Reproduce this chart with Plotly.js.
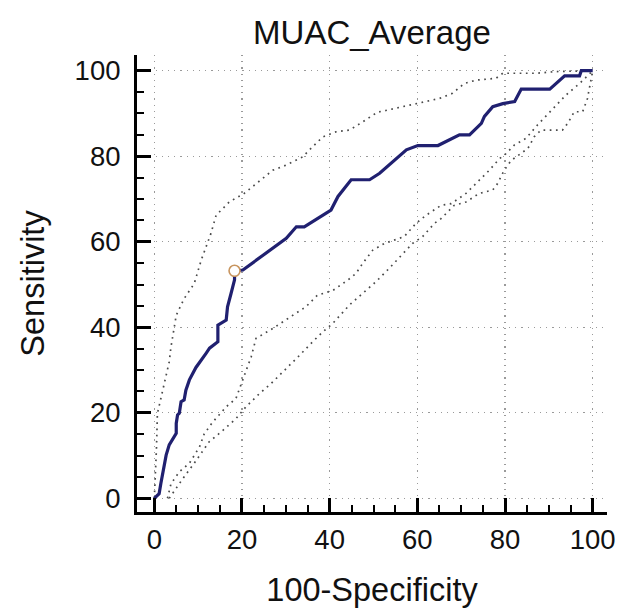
<!DOCTYPE html>
<html>
<head>
<meta charset="utf-8">
<script src="https://cdn.plot.ly/plotly-3.0.1.min.js"></script>
<style>
html,body{margin:0;padding:0;background:#fff;}
#chart{width:623px;height:612px;}
</style>
</head>
<body>
<div id="chart"></div>
<script>
// ROC curve (100-Specificity, Sensitivity)
const rocX = [0,1.1,1.5,1.9,2.3,2.7,3.4,4.2,5.0,5.0,5.3,5.7,6.1,6.8,7.2,8.0,9.5,11.8,12.6,14.5,14.5,16.4,16.7,17.5,18.3,18.3,20.2,30.1,32.4,34.2,40.3,41.9,44.9,49.1,51.4,57.5,60.1,64.7,69.6,71.9,74.6,75.3,77.2,79.5,82.2,83.7,90.2,93.6,97.0,97.4,100];
const rocY = [0,1.1,3.5,5.8,8.2,10.1,12.5,14.0,15.2,17.5,19.5,19.9,22.6,23.0,25.3,27.7,30.6,33.9,35.1,36.6,40.5,41.7,44.8,47.9,51.1,53.2,53.4,60.8,63.5,63.5,67.4,70.6,74.5,74.5,76.0,81.5,82.5,82.5,85.0,85.0,87.7,89.3,91.6,92.3,92.8,95.7,95.7,98.8,98.8,100,100];

// Upper dotted band
const upperX = [0,0.3,0.5,0.7,1.7,2.3,2.7,3.4,3.8,4.6,5.0,6.8,8.4,9.1,10.7,12.9,14.1,17.1,20.5,23.2,27.0,30.0,33.8,35.7,38.4,41.4,44.5,47.5,50.9,52.8,59.7,65.0,68.0,70.7,73.4,77.9,79.5,87.1,91.6,100];
const upperY = [0,6,12,19.8,24.5,27.0,29.2,31.9,35.4,40.1,42.8,46.7,49.0,50.2,55.7,61.9,66.2,69.3,71.3,73.6,76.7,77.9,79.8,81.8,84.5,85.7,86.1,88.0,90.3,90.7,92.3,93.5,94.7,97.0,97.8,98.2,99.4,99.4,99.8,100];

// Middle dotted band
const midX = [3.0,3.8,5.7,8.0,10.3,11.4,13.3,16.4,18.6,20.5,22.1,23.2,27.0,30.4,34.6,37.2,40.7,44.1,46.0,47.5,49.8,52.5,57.0,59.7,62.0,65.4,67.7,71.1,73.4,76.4,78.7,80.2,82.1,84.8,87.4,90.9,93.9,97.0,98.8,100];
const midY = [0,3.4,6.2,8.2,12.0,15.1,17.8,21.4,23.3,28.4,33.1,37.4,39.7,42.0,44.8,47.5,48.6,51.0,52.6,54.9,58.0,59.6,61.2,64.3,66.2,68.5,68.9,71.3,73.6,76.7,79.4,80.6,82.6,84.2,87.3,91.2,94.3,97.0,98.9,100];

// Lower dotted band
const lowX = [3.4,4.6,6.5,9.1,12.5,15.2,18.6,20.9,24.0,26.6,29.3,33.1,36.1,38.4,40.7,44.5,47.5,50.6,53.6,56.3,58.9,61.2,63.9,65.4,68.4,71.1,74.1,77.2,78.3,79.8,81.4,85.2,86.7,88.2,93.1,94.3,95.8,97.7,98.8,100];
const lowY = [0,1.9,4.6,8.2,13.2,15.5,18.6,21.4,24.5,26.8,29.5,33.4,36.6,38.9,40.9,45.2,47.9,50.7,53.8,56.8,59.6,61.2,64.3,65.4,68.5,69.3,71.3,72.1,73.6,76.7,79.0,81.8,84.6,86.1,86.1,87.7,90.4,90.4,93.5,100];

// Optimal criterion point
const cutX = [18.3];
const cutY = [53.2];

const tickVals = [0,20,40,60,80,100];
const tickText = ['0','20','40','60','80','100'];

const sans = "'Liberation Sans', Arial, sans-serif";

const bandStyle = {color:'#4a4a4a', width:1.7, dash:'1.7px,4.5px'};

const traces = [
  {x: upperX, y: upperY, mode:'lines', line: bandStyle, hoverinfo:'skip'},
  {x: midX, y: midY, mode:'lines', line: bandStyle, hoverinfo:'skip'},
  {x: lowX, y: lowY, mode:'lines', line: bandStyle, hoverinfo:'skip'},
  {x: rocX, y: rocY, mode:'lines', line:{color:'#202070', width:3.2}},
  {x: cutX, y: cutY, mode:'markers', marker:{symbol:'circle', size:11, color:'#ffffff', line:{color:'#c8955f', width:1.6}}}
];

const axisCommon = {
  showline:true, linecolor:'#000', linewidth:3,
  ticks:'inside', ticklen:14, tickwidth:3, tickcolor:'#000',
  tickmode:'array', tickvals: tickVals, ticktext: tickText,
  showgrid:true, gridcolor:'#9a9a9a', gridwidth:1.2, griddash:'1.2px,5px',
  zeroline:false, mirror:false,
  minor:{dtick:5, tick0:0, ticks:'inside', ticklen:7, tickwidth:2, tickcolor:'#000', showgrid:false},
  tickfont:{family: sans, size:27.5, color:'#111'}
};

const layout = {
  width:623, height:612,
  margin:{l:137, r:16, t:55, b:100},
  paper_bgcolor:'#fff', plot_bgcolor:'#fff',
  showlegend:false,
  title:{text:'MUAC_Average', font:{family: sans, size:33, color:'#111'},
         xref:'paper', x:0.5, xanchor:'center', yref:'container', y:1-32/612, yanchor:'middle'},
  xaxis: Object.assign({}, axisCommon, {
    range:[-3.95, 103.26],
    ticklabelstandoff: 1,
    title:{text:'100-Specificity', font:{family: sans, size:32.5, color:'#111'}, standoff:25}
  }),
  yaxis: Object.assign({}, axisCommon, {
    range:[-3.2, 103.67],
    ticklabelstandoff: 8,
    title:{text:'Sensitivity', font:{family: sans, size:32.5, color:'#111'}, standoff:21}
  })
};

Plotly.newPlot('chart', traces, layout, {staticPlot:true, displayModeBar:false});
</script>
</body>
</html>
